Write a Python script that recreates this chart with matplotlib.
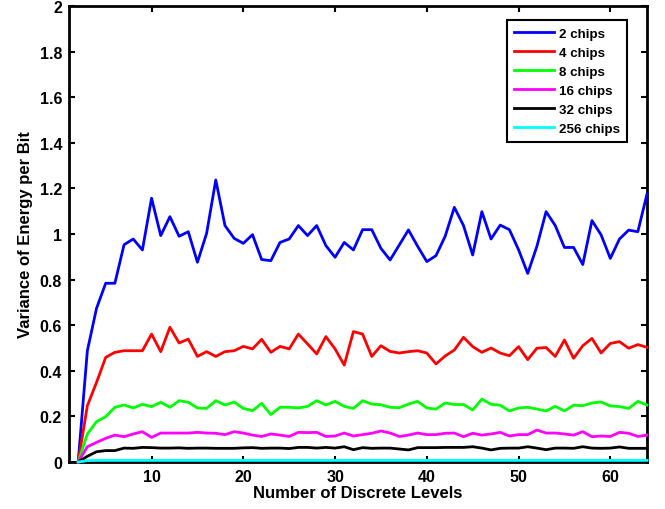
import matplotlib
matplotlib.use("Agg")
import matplotlib.pyplot as plt

plt.rcParams['font.family'] = ['Liberation Sans', 'DejaVu Sans']
plt.rcParams['font.weight'] = 'bold'

niveles = list(range(2, 65))

chips_2 = [0.0, 0.488, 0.674, 0.784, 0.784, 0.953, 0.978, 0.930, 1.157, 0.993,
           1.076, 0.990, 1.010, 0.876, 1.003, 1.237, 1.037, 0.981, 0.959, 0.997,
           0.888, 0.883, 0.963, 0.978, 1.037, 0.993, 1.037, 0.949, 0.898, 0.963,
           0.930, 1.019, 1.019, 0.937, 0.886, 0.952, 1.018, 0.946, 0.879, 0.905,
           0.990, 1.117, 1.037, 0.908, 1.098, 0.978, 1.039, 1.019, 0.931, 0.827,
           0.946, 1.098, 1.037, 0.941, 0.941, 0.866, 1.059, 0.996, 0.893, 0.978,
           1.017, 1.010, 1.175]
chips_4 = [0.0, 0.247, 0.349, 0.459, 0.481, 0.488, 0.488, 0.488, 0.561, 0.484,
           0.591, 0.522, 0.539, 0.463, 0.484, 0.463, 0.484, 0.488, 0.507, 0.496,
           0.538, 0.481, 0.507, 0.496, 0.561, 0.518, 0.474, 0.550, 0.496, 0.425,
           0.572, 0.561, 0.463, 0.510, 0.485, 0.478, 0.484, 0.488, 0.478, 0.430,
           0.465, 0.491, 0.547, 0.506, 0.481, 0.500, 0.478, 0.466, 0.506, 0.449,
           0.499, 0.502, 0.463, 0.535, 0.455, 0.510, 0.542, 0.478, 0.520, 0.528,
           0.499, 0.515, 0.503]
chips_8 = [0.0, 0.123, 0.177, 0.199, 0.240, 0.250, 0.237, 0.253, 0.243, 0.262,
           0.240, 0.269, 0.262, 0.237, 0.235, 0.269, 0.250, 0.263, 0.235, 0.225,
           0.257, 0.208, 0.240, 0.240, 0.237, 0.244, 0.269, 0.250, 0.266, 0.244,
           0.235, 0.269, 0.254, 0.251, 0.240, 0.238, 0.254, 0.266, 0.237, 0.232,
           0.259, 0.252, 0.252, 0.228, 0.276, 0.253, 0.249, 0.224, 0.237, 0.240,
           0.232, 0.224, 0.244, 0.224, 0.249, 0.247, 0.259, 0.263, 0.246, 0.243,
           0.235, 0.266, 0.250]
chips_16 = [0.0, 0.067, 0.086, 0.104, 0.118, 0.111, 0.123, 0.133, 0.108, 0.127,
            0.127, 0.127, 0.127, 0.130, 0.127, 0.126, 0.120, 0.133, 0.127, 0.118,
            0.112, 0.123, 0.118, 0.112, 0.130, 0.129, 0.130, 0.112, 0.114, 0.127,
            0.114, 0.120, 0.126, 0.136, 0.127, 0.112, 0.118, 0.127, 0.120, 0.120,
            0.126, 0.127, 0.111, 0.126, 0.118, 0.123, 0.130, 0.114, 0.120, 0.120,
            0.140, 0.127, 0.127, 0.123, 0.118, 0.133, 0.111, 0.114, 0.112, 0.130,
            0.126, 0.112, 0.118]
chips_32 = [0.0, 0.025, 0.045, 0.050, 0.050, 0.061, 0.060, 0.064, 0.063, 0.061,
            0.061, 0.062, 0.060, 0.061, 0.061, 0.060, 0.060, 0.060, 0.062, 0.063,
            0.060, 0.061, 0.061, 0.059, 0.064, 0.064, 0.061, 0.064, 0.061, 0.067,
            0.054, 0.063, 0.060, 0.061, 0.061, 0.057, 0.053, 0.063, 0.063, 0.063,
            0.064, 0.064, 0.064, 0.067, 0.061, 0.053, 0.060, 0.061, 0.061, 0.067,
            0.061, 0.054, 0.061, 0.061, 0.060, 0.067, 0.061, 0.060, 0.061, 0.066,
            0.060, 0.060, 0.060]
chips_256 = [0.0, 0.006, 0.007, 0.007, 0.007, 0.007, 0.007, 0.007, 0.007, 0.007,
             0.007, 0.007, 0.007, 0.007, 0.007, 0.007, 0.007, 0.007, 0.007, 0.007,
             0.007, 0.007, 0.007, 0.007, 0.007, 0.007, 0.007, 0.007, 0.007, 0.007,
             0.007, 0.007, 0.007, 0.007, 0.007, 0.007, 0.007, 0.007, 0.007, 0.007,
             0.007, 0.007, 0.007, 0.007, 0.007, 0.007, 0.007, 0.007, 0.007, 0.007,
             0.007, 0.007, 0.007, 0.007, 0.007, 0.007, 0.007, 0.007, 0.007, 0.007,
             0.007, 0.007, 0.007]

series = [
    ("2 chips", chips_2, "#0000ff"),
    ("4 chips", chips_4, "#ff0000"),
    ("8 chips", chips_8, "#00ff00"),
    ("16 chips", chips_16, "#ff00ff"),
    ("32 chips", chips_32, "#000000"),
    ("256 chips", chips_256, "#00ffff"),
]

fig = plt.figure(figsize=(6.65, 5.10), dpi=100)
ax = fig.add_axes([69 / 665, 47 / 510, 578 / 665, 456 / 510])

# las curvas van por encima del marco, como en el original
for nombre, valores, color in series:
    ax.plot(niveles, valores, color=color, linewidth=2, label=nombre,
            zorder=3, clip_on=False)

ax.set_xlim(1, 64)
ax.set_ylim(0, 2)
ax.set_xticks([10, 20, 30, 40, 50, 60])
ax.set_yticks([0, 0.2, 0.4, 0.6, 0.8, 1, 1.2, 1.4, 1.6, 1.8, 2])
ax.set_yticklabels(["0", "0.2", "0.4", "0.6", "0.8", "1", "1.2", "1.4", "1.6", "1.8", "2"])
ax.tick_params(direction="in", length=4, width=1.5, labelsize=11.5,
               top=True, right=True, pad=5)
for lbl in ax.get_xticklabels() + ax.get_yticklabels():
    lbl.set_fontweight("bold")
for spine in ax.spines.values():
    spine.set_linewidth(2)

ax.set_xlabel("Number of Discrete Levels", fontsize=12, fontweight="bold", labelpad=1)
ax.set_ylabel("Variance of Energy per Bit", fontsize=12, fontweight="bold", labelpad=5)

leg = ax.legend(loc="upper right", bbox_to_anchor=(0.966, 0.969),
                prop={"weight": "bold", "size": 9.6}, fancybox=False,
                edgecolor="black", framealpha=1, handlelength=3.0,
                handletextpad=0.35, labelspacing=0.5, borderpad=0.55,
                borderaxespad=0)
leg.get_frame().set_linewidth(1.5)
leg.set_zorder(5)

fig.savefig("out.png", dpi=100)
